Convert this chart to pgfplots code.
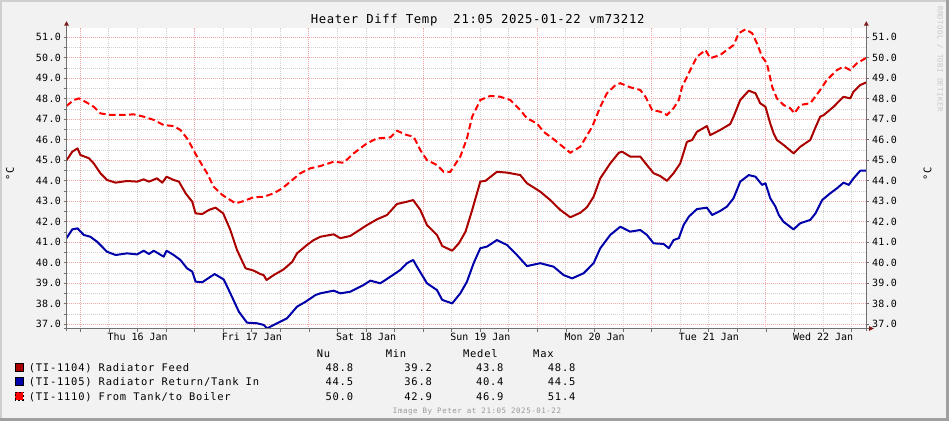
\documentclass[border=0pt]{standalone}
\usepackage{fontspec}
\setmainfont{DejaVu Sans Mono}
\newfontfamily\axisfont{DejaVu Sans Mono}
\newfontfamily\ytfont[LetterSpace=3]{DejaVu Sans Mono}
\newfontfamily\lgdfont[LetterSpace=7.4]{DejaVu Sans Mono}
\newfontfamily\titlefont[LetterSpace=5.4]{DejaVu Sans Mono}
\newfontfamily\wmfont[LetterSpace=7.2]{DejaVu Sans Mono}
\usepackage{pgfplots}
\usepackage{pgfplotstable}
\pgfplotsset{compat=1.18}
\definecolor{feed}{HTML}{AA0000}
\definecolor{ret}{HTML}{0000AA}
\definecolor{tank}{HTML}{FF0000}
\definecolor{canvas}{HTML}{F2F2F2}
\definecolor{majgrid}{HTML}{F0A8A8}
\definecolor{mingrid}{HTML}{D2D2D2}
\definecolor{axisgray}{HTML}{707070}
\definecolor{arrowred}{HTML}{7F1D1D}
\definecolor{edgelight}{HTML}{CFCFCF}
\definecolor{edgedark}{HTML}{A0A0A0}

% x = hours since 00:00 Thu 16 Jan 2025, y = degC
\pgfplotstableread{
h t
-2.92 45.00
-1.7 45.42
-0.6 45.58
0.0 45.26
1.8 45.10
2.8 44.85
4.2 44.37
5.6 44.04
7.4 43.91
9.8 43.99
11.9 43.96
13.3 44.07
14.4 43.96
16.1 44.12
17.2 43.91
18.1 44.20
19.6 44.04
20.7 43.96
22.1 43.39
23.5 42.98
24.2 42.41
25.6 42.38
27.0 42.58
28.4 42.69
30.0 42.41
31.5 41.60
32.9 40.62
34.7 39.73
36.4 39.62
37.8 39.45
38.5 39.40
39.1 39.16
40.6 39.40
42.7 39.68
44.5 40.05
45.5 40.46
47.6 40.87
49.0 41.11
50.4 41.27
53.2 41.39
54.6 41.20
56.7 41.31
60.2 41.84
62.3 42.12
64.4 42.33
66.5 42.87
68.6 42.98
69.9 43.06
71.4 42.58
72.8 41.84
74.9 41.36
76.0 40.82
78.1 40.59
79.5 40.95
80.9 41.52
82.3 42.58
84.0 43.96
85.1 44.00
87.5 44.44
89.6 44.40
92.4 44.28
93.8 43.88
96.6 43.47
98.7 43.06
100.8 42.58
102.9 42.22
105.0 42.44
106.4 42.71
107.8 43.22
109.2 44.12
111.3 44.85
113.1 45.37
113.8 45.42
115.5 45.18
117.6 45.18
119.0 44.77
120.4 44.37
121.8 44.23
123.2 44.00
124.6 44.37
126.0 44.85
127.4 45.90
128.5 45.99
129.5 46.39
131.6 46.67
132.3 46.23
134.4 46.48
136.5 46.77
137.2 47.13
138.6 47.94
140.4 48.40
141.8 48.27
142.8 47.78
143.9 47.61
144.9 46.80
145.6 46.32
146.3 45.99
147.7 45.75
149.8 45.34
151.2 45.66
153.3 45.99
154.4 46.60
155.4 47.13
156.1 47.20
158.2 47.61
160.3 48.10
161.7 48.02
162.4 48.35
163.8 48.67
165.08 48.80
}\feedtab

\pgfplotstableread{
h t
-2.92 41.20
-1.7 41.63
-0.6 41.68
0.7 41.36
2.1 41.27
3.5 41.03
5.6 40.54
7.4 40.38
9.8 40.46
11.9 40.41
13.3 40.59
14.4 40.43
15.4 40.59
17.5 40.30
18.1 40.59
19.6 40.38
21.0 40.14
22.4 39.73
23.5 39.57
24.2 39.08
25.6 39.05
27.0 39.27
28.2 39.45
30.1 39.19
31.5 38.51
33.3 37.61
35.0 37.08
37.1 37.05
38.5 36.97
39.2 36.80
41.3 37.05
43.4 37.29
45.5 37.86
47.3 38.10
49.4 38.43
50.4 38.51
53.2 38.64
54.6 38.51
56.7 38.59
59.5 38.92
60.9 39.13
63.0 39.00
65.1 39.32
67.2 39.65
68.6 39.98
69.9 40.14
70.7 39.81
72.8 39.00
74.9 38.67
76.0 38.19
78.1 38.02
79.8 38.51
81.2 39.08
82.6 39.98
84.0 40.71
85.4 40.79
87.5 41.11
89.6 40.87
91.7 40.38
93.8 39.84
96.6 39.98
99.4 39.81
101.5 39.40
103.3 39.24
105.7 39.49
107.8 39.98
109.2 40.71
111.3 41.36
113.4 41.76
115.5 41.52
117.6 41.60
119.0 41.36
120.4 40.95
122.5 40.92
123.6 40.71
124.6 41.11
125.7 41.20
126.7 41.84
127.8 42.25
129.5 42.62
131.6 42.69
132.7 42.33
134.4 42.53
135.8 42.74
137.2 43.15
138.6 43.96
140.4 44.28
141.8 44.20
143.2 43.80
143.9 43.88
144.9 43.15
146.0 42.74
146.7 42.33
147.7 42.00
149.8 41.63
151.2 41.93
153.3 42.09
154.4 42.41
155.8 43.06
157.5 43.39
158.9 43.63
160.3 43.91
161.4 43.80
162.4 44.12
163.8 44.49
165.08 44.50
}\rettab

\pgfplotstableread{
h t
-2.92 47.65
-1.4 47.94
-0.3 48.02
1.4 47.81
2.8 47.61
4.2 47.29
6.3 47.21
8.4 47.21
11.2 47.24
13.3 47.13
15.4 46.97
17.5 46.72
19.6 46.67
21.0 46.48
22.4 46.07
22.8 45.91
24.5 45.18
26.6 44.37
28.0 43.71
29.8 43.31
31.5 43.06
32.6 42.90
34.3 43.01
36.4 43.20
38.5 43.22
40.6 43.39
42.4 43.63
44.1 43.96
46.2 44.37
48.3 44.61
50.4 44.72
53.2 44.93
55.3 44.88
57.4 45.34
60.2 45.83
62.3 46.07
65.1 46.12
66.5 46.44
68.6 46.23
70.0 46.15
71.4 45.50
72.8 45.01
74.9 44.77
76.3 44.44
77.7 44.44
79.8 45.18
81.2 46.07
82.3 47.13
84.0 47.94
86.1 48.14
88.2 48.10
90.3 47.94
92.4 47.45
93.8 47.05
95.9 46.80
97.3 46.39
99.4 46.03
102.2 45.50
102.9 45.37
105.0 45.66
107.1 46.48
107.8 46.80
109.2 47.61
110.6 48.27
112.4 48.67
113.4 48.76
115.5 48.56
117.6 48.43
118.7 48.10
120.1 47.45
121.8 47.37
123.2 47.21
124.6 47.54
125.7 47.94
126.4 48.59
128.1 49.40
129.5 50.05
131.3 50.38
132.3 49.98
134.4 50.14
135.8 50.38
137.2 50.62
138.3 51.20
139.7 51.39
141.1 51.20
142.1 50.71
143.2 50.05
144.2 49.73
145.3 48.59
146.3 48.02
147.7 47.70
149.1 47.54
150.0 47.29
151.2 47.70
153.3 47.78
155.4 48.43
156.8 48.92
158.9 49.40
160.3 49.57
161.7 49.40
163.1 49.73
165.08 50.00
}\tanktab

\begin{document}
\begin{tikzpicture}[x=1bp,y=1bp]
\path[use as bounding box] (0,0) rectangle (949,421);
\fill[edgedark] (0,0) rectangle (949,421);
\fill[edgelight] (0,3) rectangle (946,421);
\fill[canvas] (2,3) rectangle (946,419);

\begin{axis}[
  at={(66.5bp,92.5bp)}, anchor=south west, scale only axis,
  width=799.8bp, height=300.5bp,
  xmin=-2.917, xmax=165.083, ymin=36.795, ymax=51.454,
  axis background/.style={fill=white},
  axis line style={draw=none},
  tick pos=left, tick align=outside,
  major tick length=3bp, minor tick length=3bp,
  tick style={axisgray, line width=0.8bp},
  xtick={0,24,48,72,96,120,144},
  xticklabels={,,,,,,},
  minor xtick={6,12,18,30,36,42,54,60,66,78,84,90,102,108,114,126,132,138,150,156,162},
  extra x ticks={12,36,60,84,108,132,156},
  extra x tick labels={Thu 16 Jan,Fri 17 Jan,Sat 18 Jan,Sun 19 Jan,Mon 20 Jan,Tue 21 Jan,Wed 22 Jan},
  extra x tick style={grid=none, major tick length=0pt},
  xticklabel style={font=\axisfont\fontsize{10}{12}\selectfont, anchor=base, inner sep=0pt, yshift=-12.2bp},
  ytick={37,38,39,40,41,42,43,44,45,46,47,48,49,50,51},
  yticklabels={37.0,38.0,39.0,40.0,41.0,42.0,43.0,44.0,45.0,46.0,47.0,48.0,49.0,50.0,51.0},
  minor ytick={37.5,38.5,39.5,40.5,41.5,42.5,43.5,44.5,45.5,46.5,47.5,48.5,49.5,50.5},
  yticklabel style={font=\ytfont\fontsize{10}{12}\selectfont, anchor=east, inner sep=0pt, xshift=-2.5bp},
  grid=both,
  major grid style={majgrid, line width=1bp, dash pattern=on 1bp off 1bp},
  minor grid style={mingrid, line width=1bp, dash pattern=on 1bp off 1bp},
  clip=true,
]
\addplot[feed, line width=2bp, line join=round] table[x=h, y=t] {\feedtab};
\addplot[ret, line width=2bp, line join=round] table[x=h, y=t] {\rettab};
\addplot[tank, line width=2bp, dash pattern=on 6.5bp off 3.5bp] table[x=h, y=t] {\tanktab};
\end{axis}

\begin{axis}[
  at={(66.5bp,92.5bp)}, anchor=south west, scale only axis,
  width=799.8bp, height=300.5bp,
  xmin=-2.917, xmax=165.083, ymin=36.795, ymax=51.454,
  hide x axis,
  axis y line*=right,
  axis line style={draw=none},
  tick align=outside, major tick length=3bp,
  tick style={axisgray, line width=0.8bp},
  ytick={37,38,39,40,41,42,43,44,45,46,47,48,49,50,51},
  yticklabels={37.0,38.0,39.0,40.0,41.0,42.0,43.0,44.0,45.0,46.0,47.0,48.0,49.0,50.0,51.0},
  yticklabel style={font=\ytfont\fontsize{10}{12}\selectfont, anchor=west, inner sep=0pt, xshift=2.5bp},
]
\end{axis}

% axis lines and arrows (rrdtool style)
\draw[axisgray, line width=1bp] (66.5,90) -- (66.5,396);
\draw[axisgray, line width=1bp] (866.3,90) -- (866.3,396);
\draw[axisgray, line width=1bp] (63.5,92.5) -- (869.5,92.5);
\fill[arrowred] (66.5,399.8) -- (64,395.3) -- (69,395.3) -- cycle;
\fill[arrowred] (866.3,399.8) -- (863.8,395.3) -- (868.8,395.3) -- cycle;
\fill[arrowred] (873.8,92.5) -- (869.2,90.1) -- (869.2,94.9) -- cycle;

% title
\node[anchor=base, inner sep=0pt] at (477.6,397) {\titlefont\fontsize{12.3}{14}\selectfont Heater Diff Temp\ \ 21:05 2025-01-22 vm73212};

% unit labels
\node[rotate=90, inner sep=0pt] at (10,247.5) {\lgdfont\fontsize{10.5}{12}\selectfont °C};
\node[rotate=90, inner sep=0pt] at (927.5,247) {\lgdfont\fontsize{10.5}{12}\selectfont °C};

% watermark right
\node[rotate=-90, inner sep=0pt, text=black!22] at (940,362) {\wmfont\fontsize{7.3}{9}\selectfont RRDTOOL / TOBI OETIKER};

% legend
\begin{scope}[font=\lgdfont\fontsize{10.5}{12}\selectfont]
\node[anchor=base west, inner sep=0pt] at (316.7,63.5) {Nu};
\node[anchor=base west, inner sep=0pt] at (385.6,63.5) {Min};
\node[anchor=base west, inner sep=0pt] at (462.9,63.5) {Medel};
\node[anchor=base west, inner sep=0pt] at (533.0,63.5) {Max};

\fill[feed, draw=black, line width=0.8bp] (15,49.5) rectangle (23.3,57.7);
\fill[ret, draw=black, line width=0.8bp] (15,35.2) rectangle (23.3,43.4);
\fill[tank] (15,20.9) rectangle (23.3,29.1);
\draw[black, line width=0.8bp, dash pattern=on 2bp off 2bp] (15,20.9) rectangle (23.3,29.1);

\node[anchor=base west, inner sep=0pt] at (28.6,50) {(TI-1104) Radiator Feed};
\node[anchor=base west, inner sep=0pt] at (28.6,35.5) {(TI-1105) Radiator Return/Tank In};
\node[anchor=base west, inner sep=0pt] at (28.6,21) {(TI-1110) From Tank/to Boiler};

\node[anchor=base west, inner sep=0pt] at (325.4,50) {48.8};
\node[anchor=base west, inner sep=0pt] at (404.2,50) {39.2};
\node[anchor=base west, inner sep=0pt] at (475.8,50) {43.8};
\node[anchor=base west, inner sep=0pt] at (547.7,50) {48.8};

\node[anchor=base west, inner sep=0pt] at (325.4,35.5) {44.5};
\node[anchor=base west, inner sep=0pt] at (404.2,35.5) {36.8};
\node[anchor=base west, inner sep=0pt] at (475.8,35.5) {40.4};
\node[anchor=base west, inner sep=0pt] at (547.7,35.5) {44.5};

\node[anchor=base west, inner sep=0pt] at (325.4,21) {50.0};
\node[anchor=base west, inner sep=0pt] at (404.2,21) {42.9};
\node[anchor=base west, inner sep=0pt] at (475.8,21) {46.9};
\node[anchor=base west, inner sep=0pt] at (547.7,21) {51.4};
\end{scope}

\node[anchor=base, inner sep=0pt, text=black!40] at (477,7.5) {\wmfont\fontsize{7.5}{9}\selectfont Image By Peter at 21:05 2025-01-22};
\end{tikzpicture}
\end{document}
